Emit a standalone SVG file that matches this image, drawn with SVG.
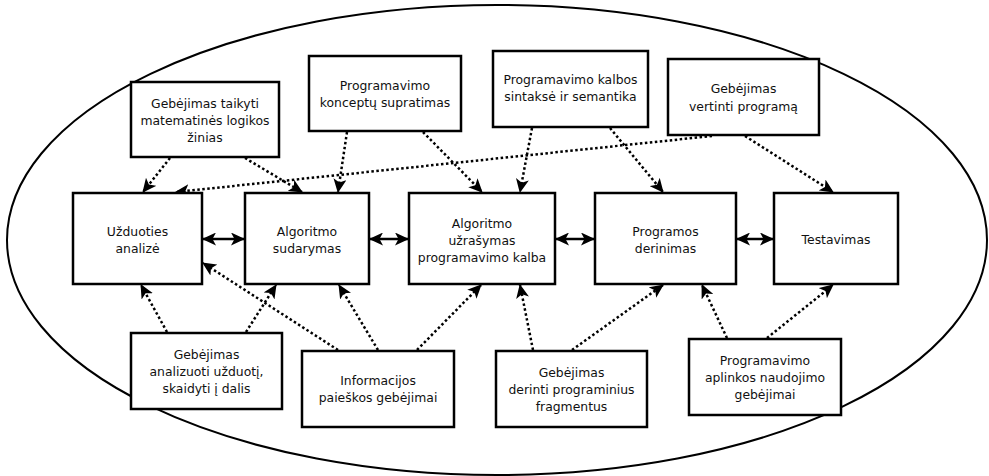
<svg xmlns="http://www.w3.org/2000/svg" width="989" height="476" viewBox="0 0 989 476">
  <style>
    .box { fill: #ffffff; stroke: #000000; stroke-width: 2.5; }
    .lbl { font-family: "DejaVu Sans", Tahoma, Verdana, sans-serif; font-size: 12.4px; fill: #111111; text-anchor: middle; }
    .dot { fill: none; stroke: #000000; stroke-width: 2.5; stroke-dasharray: 2.5 2.5; marker-end: url(#head); }
    .flow { fill: none; stroke: #000000; stroke-width: 2.5; marker-start: url(#head); marker-end: url(#head); }
  </style>
  <defs>
    <marker id="head" markerUnits="userSpaceOnUse" markerWidth="14" markerHeight="13" viewBox="0 0 14 13" refX="13" refY="6.5" orient="auto-start-reverse">
      <path d="M0,0 L14,6.5 L0,13 L3.5,6.5 z" fill="#000000"/>
    </marker>
  </defs>

  <rect width="989" height="476" fill="#ffffff"/>
  <ellipse cx="497" cy="240" rx="490" ry="235" fill="none" stroke="#000000" stroke-width="2"/>

  <!-- connectors -->
  <g id="connectors">
    <!-- main process chain -->
    <line class="flow" x1="203" y1="239" x2="244" y2="239"/>
    <line class="flow" x1="370" y1="239" x2="408" y2="239"/>
    <line class="flow" x1="556" y1="239" x2="594" y2="239"/>
    <line class="flow" x1="737" y1="239" x2="773" y2="239"/>
    <!-- upper skills -->
    <line class="dot" x1="170" y1="158" x2="143" y2="192"/>
    <line class="dot" x1="245" y1="158" x2="302" y2="192"/>
    <line class="dot" x1="347" y1="132" x2="338" y2="192"/>
    <line class="dot" x1="423" y1="132" x2="482" y2="192"/>
    <line class="dot" x1="532" y1="128" x2="520" y2="192"/>
    <line class="dot" x1="610" y1="128" x2="663" y2="192"/>
    <line class="dot" x1="745" y1="136" x2="833" y2="192"/>
    <line class="dot" x1="712" y1="136" x2="176" y2="192"/>
    <!-- lower skills -->
    <line class="dot" x1="167" y1="332" x2="141" y2="285"/>
    <line class="dot" x1="246" y1="332" x2="276" y2="285"/>
    <line class="dot" x1="338" y1="350" x2="203" y2="263"/>
    <line class="dot" x1="378" y1="350" x2="339" y2="285"/>
    <line class="dot" x1="417" y1="350" x2="481" y2="285"/>
    <line class="dot" x1="533" y1="350" x2="520" y2="285"/>
    <line class="dot" x1="572" y1="350" x2="663" y2="285"/>
    <line class="dot" x1="727" y1="338" x2="702" y2="285"/>
    <line class="dot" x1="767" y1="338" x2="833" y2="285"/>
  </g>

  <!-- upper row -->
  <g id="taikyti-logika">
    <rect class="box" x="131" y="82" width="148" height="75"/>
    <text class="lbl" x="205" y="108">Gebėjimas taikyti</text>
    <text class="lbl" x="205" y="125">matematinės logikos</text>
    <text class="lbl" x="205" y="142">žinias</text>
  </g>
  <g id="konceptai">
    <rect class="box" x="309" y="56" width="152" height="75"/>
    <text class="lbl" x="385" y="90">Programavimo</text>
    <text class="lbl" x="385" y="107">konceptų supratimas</text>
  </g>
  <g id="sintakse">
    <rect class="box" x="493" y="51" width="155" height="76"/>
    <text class="lbl" x="570.5" y="84">Programavimo kalbos</text>
    <text class="lbl" x="570.5" y="101">sintaksė ir semantika</text>
  </g>
  <g id="vertinti">
    <rect class="box" x="668" y="59" width="151" height="76"/>
    <text class="lbl" x="743.5" y="93">Gebėjimas</text>
    <text class="lbl" x="743.5" y="111">vertinti programą</text>
  </g>

  <!-- process row -->
  <g id="analize">
    <rect class="box" x="73" y="193" width="129" height="91"/>
    <text class="lbl" x="137.5" y="236">Užduoties</text>
    <text class="lbl" x="137.5" y="253">analizė</text>
  </g>
  <g id="sudarymas">
    <rect class="box" x="245" y="193" width="124" height="91"/>
    <text class="lbl" x="307" y="236">Algoritmo</text>
    <text class="lbl" x="307" y="253">sudarymas</text>
  </g>
  <g id="uzrasymas">
    <rect class="box" x="409" y="193" width="146" height="91"/>
    <text class="lbl" x="482" y="228">Algoritmo</text>
    <text class="lbl" x="482" y="245">užrašymas</text>
    <text class="lbl" x="482" y="262">programavimo kalba</text>
  </g>
  <g id="derinimas">
    <rect class="box" x="595" y="193" width="141" height="91"/>
    <text class="lbl" x="665.5" y="236">Programos</text>
    <text class="lbl" x="665.5" y="253">derinimas</text>
  </g>
  <g id="testavimas">
    <rect class="box" x="774" y="193" width="124" height="91"/>
    <text class="lbl" x="836" y="244">Testavimas</text>
  </g>

  <!-- lower row -->
  <g id="analizuoti">
    <rect class="box" x="131" y="333" width="151" height="76"/>
    <text class="lbl" x="206.5" y="359">Gebėjimas</text>
    <text class="lbl" x="206.5" y="376">analizuoti užduotį,</text>
    <text class="lbl" x="206.5" y="393">skaidyti į dalis</text>
  </g>
  <g id="paieska">
    <rect class="box" x="302" y="351" width="152" height="76"/>
    <text class="lbl" x="378" y="385">Informacijos</text>
    <text class="lbl" x="378" y="402">paieškos gebėjimai</text>
  </g>
  <g id="fragmentai">
    <rect class="box" x="496" y="351" width="151" height="76"/>
    <text class="lbl" x="571.5" y="377">Gebėjimas</text>
    <text class="lbl" x="571.5" y="394">derinti programinius</text>
    <text class="lbl" x="571.5" y="411">fragmentus</text>
  </g>
  <g id="aplinka">
    <rect class="box" x="689" y="339" width="152" height="76"/>
    <text class="lbl" x="765" y="365">Programavimo</text>
    <text class="lbl" x="765" y="382">aplinkos naudojimo</text>
    <text class="lbl" x="765" y="399">gebėjimai</text>
  </g>
</svg>
